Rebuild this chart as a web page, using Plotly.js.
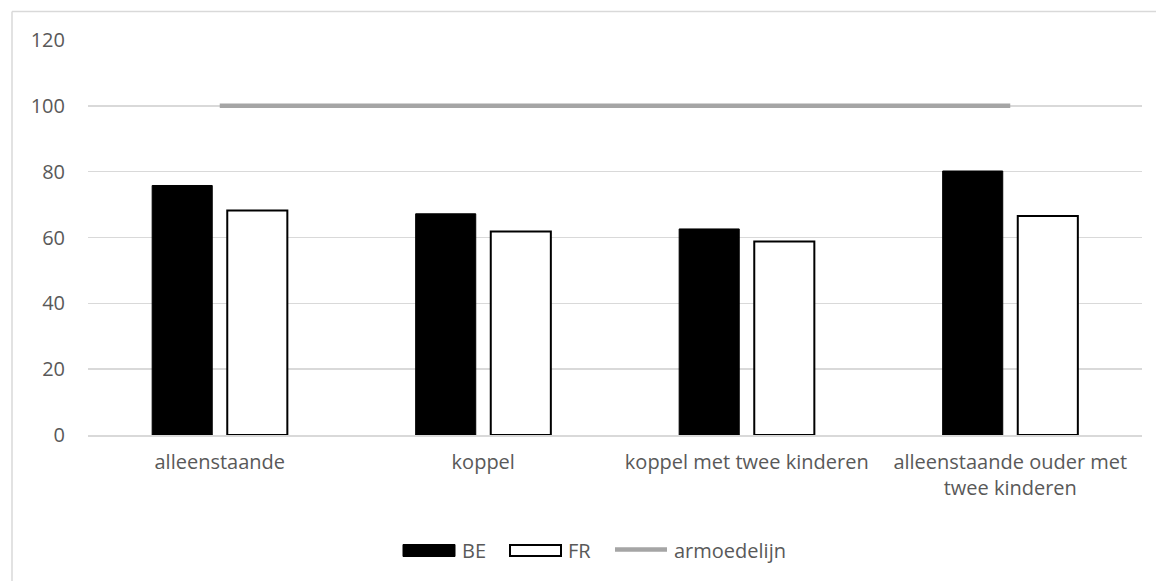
<!DOCTYPE html>
<html><head><meta charset="utf-8">
<script src="https://cdn.plot.ly/plotly-3.0.1.min.js"></script>
<style>html,body{margin:0;padding:0;background:#fff}#chart{width:1156px;height:581px}</style>
</head><body><div id="chart"></div>
<script>
const categories = ["alleenstaande", "koppel", "koppel met twee kinderen", "alleenstaande ouder met<br>twee kinderen"];
const beValues = [75.8, 67.2, 62.6, 80.2];
const frValues = [68.2, 61.8, 58.8, 66.5];
const povertyLine = [100, 100, 100, 100];
const yTicks = [0, 20, 40, 60, 80, 100, 120];
const seriesNames = ["BE", "FR", "armoedelijn"];

const font = "'Open Sans', sans-serif";
const textColor = "#595959";
const fs = 20;

// plot area geometry (pixels) used only for the decorative frame and legend
const L = 88, R = 14, T = 40, B = 146, W = 1156, H = 581;
const pw = W - L - R, ph = H - T - B;
const px = v => (v - L) / pw;
const py = v => (H - B - v) / ph;

const traces = [
  {type: "bar", name: seriesNames[0], x: categories, y: beValues,
   marker: {color: "#000000", line: {color: "#000000", width: 1}}},
  {type: "bar", name: seriesNames[1], x: categories, y: frValues,
   marker: {color: "#ffffff", line: {color: "#000000", width: 2}}},
  {type: "scatter", mode: "lines", name: seriesNames[2], x: categories, y: povertyLine,
   line: {color: "#a5a5a5", width: 4.5}}
];

const legendY = 550;
const shapes = [
  // outer frame (top and left edges visible)
  {type: "line", xref: "paper", yref: "paper", x0: px(12), x1: px(W + 5), y0: py(11.5), y1: py(11.5),
   line: {color: "#d9d9d9", width: 1.5}},
  {type: "line", xref: "paper", yref: "paper", x0: px(12), x1: px(12), y0: py(11.5), y1: py(H + 5),
   line: {color: "#d9d9d9", width: 1.5}},
  // legend swatches
  {type: "rect", xref: "paper", yref: "paper", x0: px(403), x1: px(455), y0: py(556.5), y1: py(544.5),
   fillcolor: "#000000", line: {color: "#000000", width: 1}},
  {type: "rect", xref: "paper", yref: "paper", x0: px(510), x1: px(561), y0: py(556), y1: py(545),
   fillcolor: "#ffffff", line: {color: "#000000", width: 2}},
  {type: "line", xref: "paper", yref: "paper", x0: px(615), x1: px(667), y0: py(549.5), y1: py(549.5),
   line: {color: "#a5a5a5", width: 4.5}}
];
const annotations = [
  {x: px(460), text: seriesNames[0]},
  {x: px(566), text: seriesNames[1]},
  {x: px(672), text: seriesNames[2]}
].map(a => Object.assign({xref: "paper", yref: "paper", y: py(legendY), xanchor: "left", yanchor: "middle",
  showarrow: false, font: {family: font, size: fs, color: textColor}}, a));

const layout = {
  width: W, height: H,
  margin: {l: L, r: R, t: T, b: B},
  paper_bgcolor: "#ffffff", plot_bgcolor: "#ffffff",
  font: {family: font, size: fs, color: textColor},
  barmode: "group", bargap: 0.43, bargroupgap: 0.2,
  showlegend: false,
  xaxis: {type: "category", showgrid: false, showline: true, linecolor: "#d9d9d9", linewidth: 1.5,
          ticks: "", tickfont: {family: font, size: fs, color: textColor}, automargin: false,
          ticklabelstandoff: 8},
  yaxis: {range: [0, 120], tickvals: yTicks, showgrid: true, gridcolor: "#d9d9d9", gridwidth: 1.5,
          zeroline: false, showline: false, ticks: "", ticklabelstandoff: 22,
          tickfont: {family: font, size: fs, color: textColor}, automargin: false},
  shapes: shapes,
  annotations: annotations
};
Plotly.newPlot("chart", traces, layout, {displayModeBar: false, staticPlot: true});
</script></body></html>
